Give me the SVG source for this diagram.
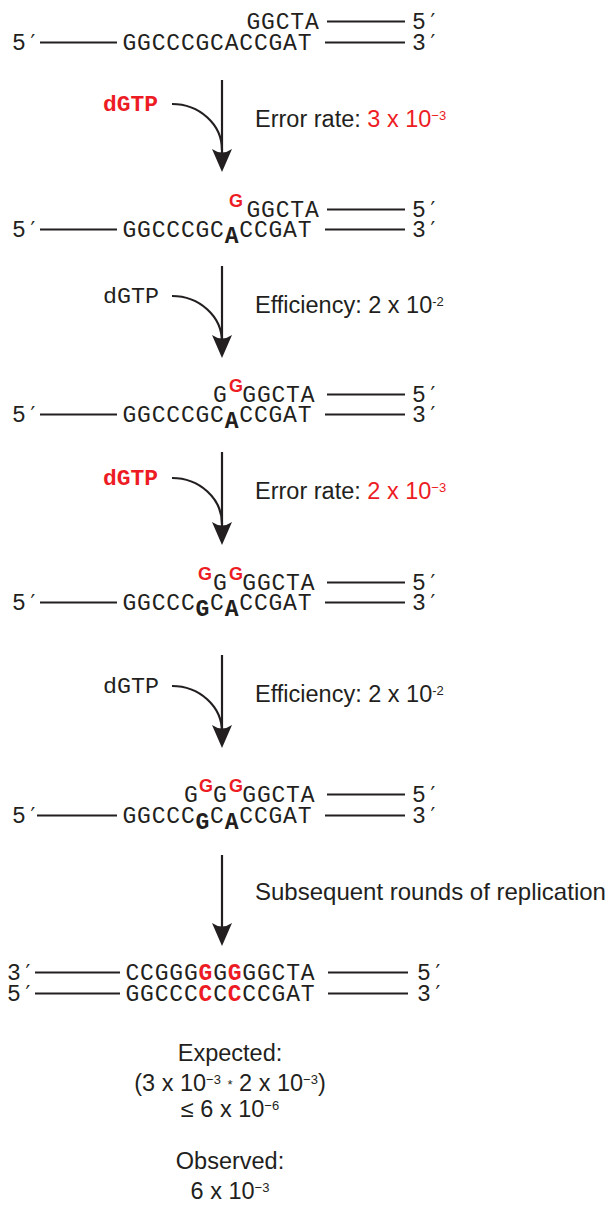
<svg xmlns="http://www.w3.org/2000/svg" width="609" height="1207" viewBox="0 0 609 1207">
<style>
.mono{font-family:"Liberation Mono","Courier New",monospace;font-size:23px;fill:#231f20;letter-spacing:0.8px}
.p{font-family:"DejaVu Sans Mono","Liberation Mono",monospace;font-size:21px}
.b{font-weight:bold}
.sg{font-family:"Liberation Sans",Arial,sans-serif;font-weight:bold;font-size:18px;fill:#ed1c24}
.dg{font-family:"Liberation Mono","Courier New",monospace;font-size:22px;fill:#231f20}
.sans{font-family:"Liberation Sans",Arial,Helvetica,sans-serif;font-size:23.5px;fill:#231f20}
.sup{font-size:13px}
.st{stroke:#231f20;stroke-width:2;fill:none}
.conn{fill:none;stroke:#231f20;stroke-width:2.2}
.red{fill:#ed1c24}
</style>
<defs>
<marker id="ah" markerUnits="userSpaceOnUse" viewBox="0 0 23 20" markerWidth="23" markerHeight="20" refX="5" refY="10" orient="auto">
<path d="M0,0 L23,10 L0,20 Q7,10 0,0 Z" fill="#231f20"/>
</marker>
</defs>

<g id="dna1">
<text class="mono" x="246.5" y="29">GGCTA</text>
<line class="st" x1="327" y1="21.5" x2="405" y2="21.5"/>
<text class="mono" x="412" y="29">5<tspan class="p">′</tspan></text>
<text class="mono" x="12" y="50">5<tspan class="p">′</tspan></text>
<line class="st" x1="40" y1="42.5" x2="117" y2="42.5"/>
<text class="mono" x="122.5" y="50">GGCCCGCACCGAT</text>
<line class="st" x1="325" y1="42.5" x2="405" y2="42.5"/>
<text class="mono" x="412" y="50">3<tspan class="p">′</tspan></text>
</g>

<g id="dna2">
<text class="sg" x="229" y="207">G</text>
<text class="mono" x="246.5" y="217">GGCTA</text>
<line class="st" x1="327" y1="209.5" x2="405" y2="209.5"/>
<text class="mono" x="412" y="217">5<tspan class="p">′</tspan></text>
<text class="mono" x="12" y="237">5<tspan class="p">′</tspan></text>
<line class="st" x1="40" y1="229.5" x2="117" y2="229.5"/>
<text class="mono"><tspan x="122.5" y="237">GGCCCGC</tspan><tspan class="b" x="224.7" y="243">A</tspan><tspan x="239.3" y="237">CCGAT</tspan></text>
<line class="st" x1="325" y1="229.5" x2="405" y2="229.5"/>
<text class="mono" x="412" y="237">3<tspan class="p">′</tspan></text>
</g>

<g id="dna3">
<text class="mono" x="213.1" y="402">G</text>
<text class="sg" x="229" y="392">G</text>
<text class="mono" x="242.3" y="402">GGCTA</text>
<line class="st" x1="327" y1="394.5" x2="405" y2="394.5"/>
<text class="mono" x="412" y="402">5<tspan class="p">′</tspan></text>
<text class="mono" x="12" y="422">5<tspan class="p">′</tspan></text>
<line class="st" x1="40" y1="414.5" x2="117" y2="414.5"/>
<text class="mono"><tspan x="122.5" y="422">GGCCCGC</tspan><tspan class="b" x="224.7" y="428">A</tspan><tspan x="239.3" y="422">CCGAT</tspan></text>
<line class="st" x1="325" y1="414.5" x2="405" y2="414.5"/>
<text class="mono" x="412" y="422">3<tspan class="p">′</tspan></text>
</g>

<g id="dna4">
<text class="sg" x="198" y="580">G</text>
<text class="mono" x="213.1" y="590">G</text>
<text class="sg" x="229" y="580">G</text>
<text class="mono" x="242.3" y="590">GGCTA</text>
<line class="st" x1="327" y1="582.5" x2="405" y2="582.5"/>
<text class="mono" x="412" y="590">5<tspan class="p">′</tspan></text>
<text class="mono" x="12" y="610">5<tspan class="p">′</tspan></text>
<line class="st" x1="40" y1="602.5" x2="117" y2="602.5"/>
<text class="mono"><tspan x="122.5" y="610">GGCCC</tspan><tspan class="b" x="195.5" y="616">G</tspan><tspan x="210.1" y="610">C</tspan><tspan class="b" x="224.7" y="616">A</tspan><tspan x="239.3" y="610">CCGAT</tspan></text>
<line class="st" x1="325" y1="602.5" x2="405" y2="602.5"/>
<text class="mono" x="412" y="610">3<tspan class="p">′</tspan></text>
</g>

<g id="dna5">
<text class="mono" x="183.9" y="802">G</text>
<text class="sg" x="199" y="792">G</text>
<text class="mono" x="213.1" y="802">G</text>
<text class="sg" x="229" y="792">G</text>
<text class="mono" x="242.3" y="802">GGCTA</text>
<line class="st" x1="327" y1="794.5" x2="405" y2="794.5"/>
<text class="mono" x="412" y="802">5<tspan class="p">′</tspan></text>
<text class="mono" x="12" y="823">5<tspan class="p">′</tspan></text>
<line class="st" x1="37" y1="815.5" x2="117" y2="815.5"/>
<text class="mono"><tspan x="122.5" y="823">GGCCC</tspan><tspan class="b" x="195.5" y="829">G</tspan><tspan x="210.1" y="823">C</tspan><tspan class="b" x="224.7" y="829">A</tspan><tspan x="239.3" y="823">CCGAT</tspan></text>
<line class="st" x1="325" y1="815.5" x2="405" y2="815.5"/>
<text class="mono" x="412" y="823">3<tspan class="p">′</tspan></text>
</g>

<g id="dna6">
<text class="mono" x="7" y="980">3<tspan class="p">′</tspan></text>
<line class="st" x1="35" y1="972.5" x2="120" y2="972.5"/>
<text class="mono" x="125.5" y="980">CCGGG<tspan class="b red">G</tspan>G<tspan class="b red">G</tspan>GGCTA</text>
<line class="st" x1="328" y1="972.5" x2="408" y2="972.5"/>
<text class="mono" x="417" y="980">5<tspan class="p">′</tspan></text>
<text class="mono" x="7" y="1001">5<tspan class="p">′</tspan></text>
<line class="st" x1="35" y1="993.5" x2="120" y2="993.5"/>
<text class="mono" x="125.5" y="1001">GGCCC<tspan class="b red">C</tspan>C<tspan class="b red">C</tspan>CCGAT</text>
<line class="st" x1="328" y1="993.5" x2="408" y2="993.5"/>
<text class="mono" x="417" y="1001">3<tspan class="p">′</tspan></text>
</g>

<g id="step1">
<text class="dg b red" x="103" y="111" textLength="55" lengthAdjust="spacingAndGlyphs">dGTP</text>
<text class="sans" x="255" y="127">Error rate: <tspan class="red">3 x 10<tspan class="sup" dy="-7">−3</tspan></tspan></text>
</g>
<g id="step2">
<text class="dg" x="103" y="303" textLength="56" lengthAdjust="spacingAndGlyphs">dGTP</text>
<text class="sans" x="255" y="313">Efficiency: 2 x 10<tspan class="sup" dy="-7">-2</tspan></text>
</g>
<g id="step3">
<text class="dg b red" x="103" y="485" textLength="55" lengthAdjust="spacingAndGlyphs">dGTP</text>
<text class="sans" x="255" y="499">Error rate: <tspan class="red">2 x 10<tspan class="sup" dy="-7">−3</tspan></tspan></text>
</g>
<g id="step4">
<text class="dg" x="103" y="693" textLength="56" lengthAdjust="spacingAndGlyphs">dGTP</text>
<text class="sans" x="255" y="702">Efficiency: 2 x 10<tspan class="sup" dy="-7">-2</tspan></text>
</g>
<g id="step5">
<text class="sans" x="255" y="900" style="font-size:24px">Subsequent rounds of replication</text>
</g>

<g id="connectors">
<line class="conn" x1="222" y1="80" x2="222" y2="154" marker-end="url(#ah)"/>
<path class="conn" d="M172,104 C199,104 222,124 222,150"/>
<line class="conn" x1="222" y1="266" x2="222" y2="340" marker-end="url(#ah)"/>
<path class="conn" d="M172,296 C199,296 222,316 222,342"/>
<line class="conn" x1="222" y1="452" x2="222" y2="527" marker-end="url(#ah)"/>
<path class="conn" d="M172,478 C199,478 222,498 222,524"/>
<line class="conn" x1="222" y1="655" x2="222" y2="730" marker-end="url(#ah)"/>
<path class="conn" d="M172,686 C199,686 222,706 222,732"/>
<line class="conn" x1="222" y1="855" x2="222" y2="928" marker-end="url(#ah)"/>
</g>

<g id="result">
<text class="sans" x="230" y="1061" text-anchor="middle">Expected:</text>
<text class="sans" x="230" y="1091" text-anchor="middle">(3 x 10<tspan class="sup" dy="-7">−3</tspan><tspan dy="7"> </tspan><tspan class="sup" dy="-2">*</tspan><tspan dy="2"> 2 x 10</tspan><tspan class="sup" dy="-7">−3</tspan><tspan dy="7">)</tspan></text>
<text class="sans" x="230" y="1117" text-anchor="middle">≤ 6 x 10<tspan class="sup" dy="-7">−6</tspan></text>
<text class="sans" x="230" y="1169" text-anchor="middle">Observed:</text>
<text class="sans" x="230" y="1199" text-anchor="middle">6 x 10<tspan class="sup" dy="-7">−3</tspan></text>
</g>
</svg>
